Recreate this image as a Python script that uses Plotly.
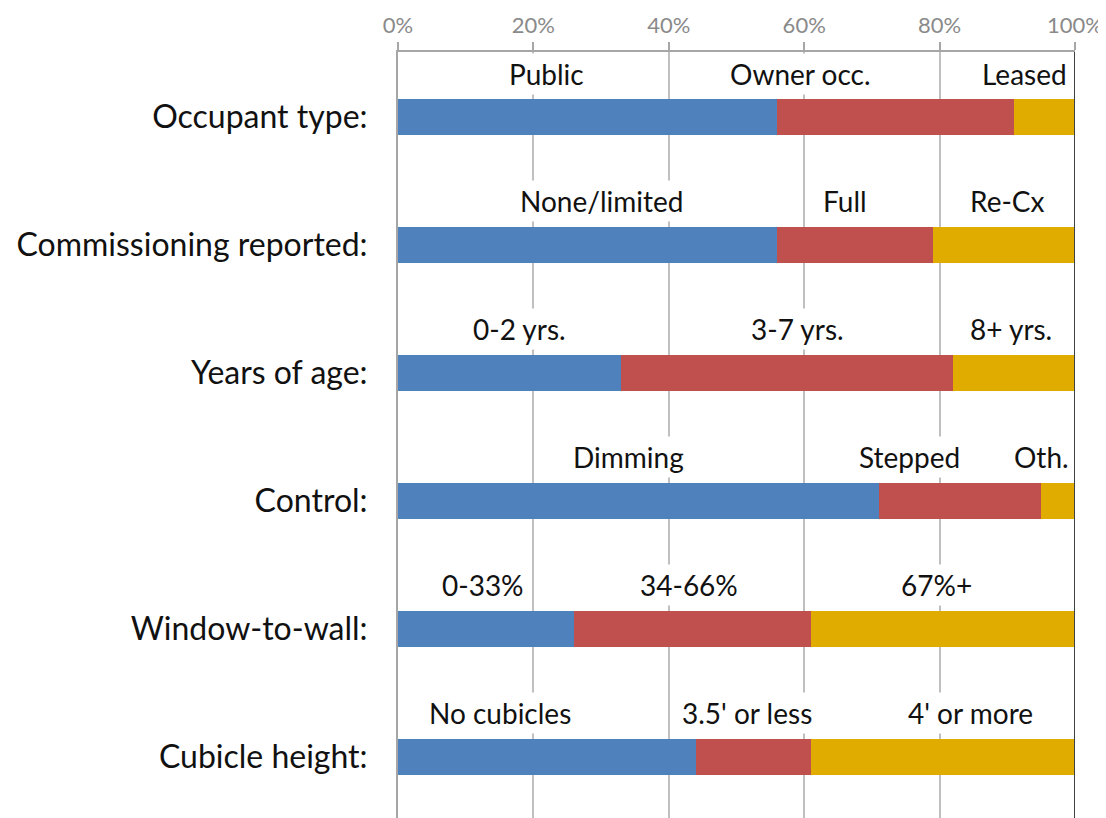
import plotly.graph_objects as go

# ---- data ----
categories = ["Occupant type:", "Commissioning reported:", "Years of age:",
              "Control:", "Window-to-wall:", "Cubicle height:"]
seg1_values = [56, 56, 33, 71, 26, 44]   # blue
seg2_values = [35, 23, 49, 24, 35, 17]   # red
seg3_values = [9, 21, 18, 5, 39, 39]     # gold
seg1_labels = ["Public", "None/limited", "0-2 yrs.", "Dimming", "0-33%", "No cubicles"]
seg2_labels = ["Owner occ.", "Full", "3-7 yrs.", "Stepped", "34-66%", "3.5' or less"]
seg3_labels = ["Leased", "Re-Cx", "8+ yrs.", "Oth.", "67%+", "4' or more"]
tick_values = [0, 20, 40, 60, 80, 100]
tick_labels = ["0%", "20%", "40%", "60%", "80%", "100%"]

# ---- layout constants (label placement, hand-positioned in the original) ----
label_x1 = [22, 30, 18, 34, 12.5, 15]
label_x2 = [59.5, 66, 59, 75.5, 43, 51.5]
label_x3 = [92.5, 90, 90.5, 95, 79.5, 84.5]
LABEL_OFFSET = 0.34

colors = ["#4f81bd", "#c0504d", "#e0ac00"]
FONT = "Lato, 'Open Sans', sans-serif"

fig = go.Figure()
for vals, col in zip([seg1_values, seg2_values, seg3_values], colors):
    fig.add_trace(go.Bar(
        y=categories, x=vals, orientation="h",
        marker=dict(color=col, line=dict(width=0)),
        width=0.28, showlegend=False, hoverinfo="x+y",
    ))

annotations = []
for i, cat in enumerate(categories):
    for lx, lab in zip([label_x1[i], label_x2[i], label_x3[i]],
                       [seg1_labels[i], seg2_labels[i], seg3_labels[i]]):
        annotations.append(dict(
            x=lx, y=i - LABEL_OFFSET, xref="x", yref="y",
            text=lab, showarrow=False,
            font=dict(family=FONT, size=28, color="#111111"),
            bgcolor="white", borderpad=3,
        ))

fig.update_layout(
    barmode="stack",
    width=1106, height=818,
    margin=dict(l=390, r=39, t=44, b=8, autoexpand=False),
    paper_bgcolor="white", plot_bgcolor="white",
    annotations=annotations,
    shapes=[dict(type="line", xref="x", yref="paper", x0=100, x1=100, y0=0, y1=1,
                 line=dict(color="#404040", width=2), layer="above")],
    xaxis=dict(
        side="top", range=[0, 100], tickvals=tick_values, ticktext=tick_labels,
        ticks="outside", ticklen=8, tickcolor="#a6a6a6", tickwidth=1.5,
        showline=True, linecolor="#a6a6a6", linewidth=2,
        showgrid=True, gridcolor="#c0c0c0", gridwidth=1.5,
        zeroline=False, automargin=False,
        tickfont=dict(family=FONT, size=22, color="#8a8a8a"),
    ),
    yaxis=dict(
        type="category", categoryorder="array", categoryarray=categories,
        range=[5.477, -0.508], automargin=False,
        showline=True, linecolor="#a6a6a6", linewidth=2,
        showgrid=False, ticks="", ticklen=0, ticklabelstandoff=22,
        tickfont=dict(family=FONT, size=32, color="#111111"),
    ),
)

fig.write_html("out.html")
